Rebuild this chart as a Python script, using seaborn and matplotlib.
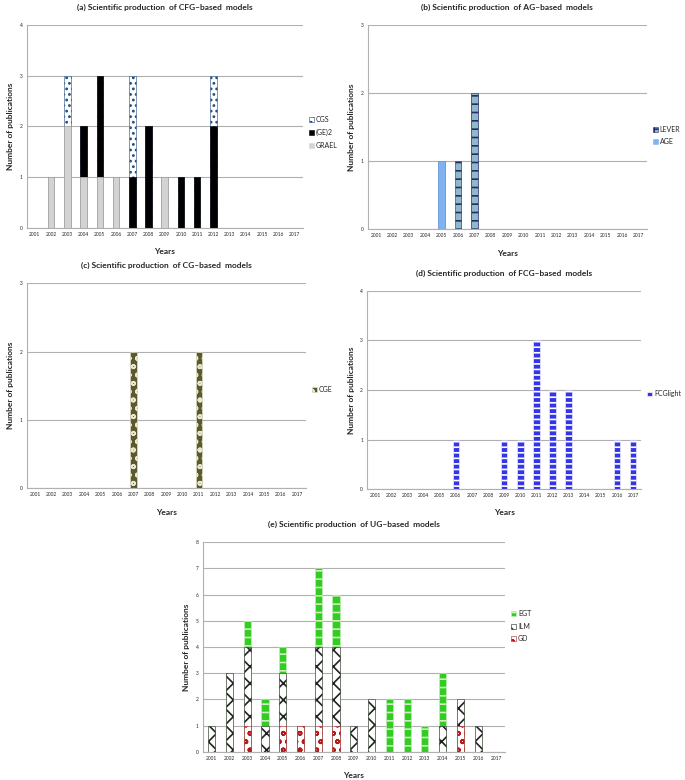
import matplotlib
matplotlib.use("Agg")
import matplotlib.pyplot as plt
import seaborn as sns
import numpy as np
from matplotlib.patches import Patch

years = [str(y) for y in range(2001, 2018)]

# (a) CFG-based models
cfg_grael = [0, 1, 2, 1, 1, 1, 0, 0, 1, 0, 0, 0, 0, 0, 0, 0, 0]
cfg_ge2 = [0, 0, 0, 1, 2, 0, 1, 2, 0, 1, 1, 2, 0, 0, 0, 0, 0]
cfg_cgs = [0, 0, 1, 0, 0, 0, 2, 0, 0, 0, 0, 1, 0, 0, 0, 0, 0]

# (b) AG-based models
ag_age = [0, 0, 0, 0, 1, 0, 0, 0, 0, 0, 0, 0, 0, 0, 0, 0, 0]
ag_lever = [0, 0, 0, 0, 0, 1, 2, 0, 0, 0, 0, 0, 0, 0, 0, 0, 0]

# (c) CG-based models
cg_cge = [0, 0, 0, 0, 0, 0, 2, 0, 0, 0, 2, 0, 0, 0, 0, 0, 0]

# (d) FCG-based models
fcg_light = [0, 0, 0, 0, 0, 1, 0, 0, 1, 1, 3, 2, 2, 0, 0, 1, 1]

# (e) UG-based models
ug_gd = [0, 0, 1, 0, 1, 1, 1, 1, 0, 0, 0, 0, 0, 0, 1, 0, 0]
ug_ilm = [1, 3, 3, 1, 2, 0, 3, 3, 1, 2, 0, 0, 0, 1, 1, 1, 0]
ug_egt = [0, 0, 1, 1, 1, 0, 3, 2, 0, 0, 2, 2, 1, 2, 0, 0, 0]

sns.set_style("white")
plt.rcParams["font.family"] = ["Lato", "DejaVu Sans"]
plt.rcParams["hatch.linewidth"] = 1.2

fig = plt.figure(figsize=(6.85, 7.8), dpi=100)


def stacked(ax, series, title, ymax, leg_y=0.48):
    # series: list of (label, values, face, hatch, hatchcolor), bottom first
    totals = np.cumsum([s[1] for s in series], axis=0)
    for i in range(len(series) - 1, -1, -1):
        label, vals, face, hatch, hcol = series[i]
        sns.barplot(x=years, y=totals[i], ax=ax, color=face, saturation=1,
                    width=0.4, edgecolor=hcol, linewidth=0.4, hatch=hatch)
    ax.set_ylim(0, ymax)
    ax.set_yticks(range(0, ymax + 1))
    ax.yaxis.grid(True, color="#b0b0b0", linewidth=0.8)
    ax.set_axisbelow(True)
    for side in ["top", "right"]:
        ax.spines[side].set_visible(False)
    ax.spines["left"].set_color("#b0b0b0")
    ax.spines["bottom"].set_color("#b0b0b0")
    ax.tick_params(axis="both", labelsize=3.5, length=0, pad=3)
    ax.set_title(title, fontsize=6, fontweight="bold", pad=11)
    ax.set_ylabel("Number of publications", fontsize=6, fontweight="bold")
    ax.set_xlabel("Years", fontsize=6, fontweight="bold", labelpad=8)
    handles = [Patch(facecolor=s[2], edgecolor=s[4], hatch=s[3], linewidth=0.4, label=s[0])
               for s in reversed(series)]
    ax.legend(handles=handles, loc="center left", bbox_to_anchor=(1.0, leg_y),
              frameon=False, fontsize=5, handlelength=0.7, handleheight=0.7,
              handletextpad=0.3, labelspacing=0.8)


ax_a = fig.add_axes([0.039, 0.708, 0.403, 0.260])
stacked(ax_a, [("GRAEL", cfg_grael, "#d3d3d3", None, "#d3d3d3"),
               ("(GE)2", cfg_ge2, "#000000", None, "#000000"),
               ("CGS", cfg_cgs, "#ffffff", "...", "#1f4a80")],
        "(a) Scientific production  of CFG\u2013based  models", 4, 0.47)

ax_b = fig.add_axes([0.537, 0.706, 0.407, 0.262])
stacked(ax_b, [("AGE", ag_age, "#7fb2f0", None, "#7fb2f0"),
               ("LEVER", ag_lever, "#8fb8c8", "++", "#2a2a6a")],
        "(b) Scientific production  of AG\u2013based  models", 3, 0.46)

ax_c = fig.add_axes([0.039, 0.374, 0.407, 0.263])
stacked(ax_c, [("CGE", cg_cge, "#5b5a2e", "oo", "#e8e8d0")],
        "(c) Scientific production  of CG\u2013based  models", 3, 0.48)

ax_d = fig.add_axes([0.536, 0.373, 0.400, 0.254])
stacked(ax_d, [("FCGlight", fcg_light, "#3535e8", "---", "#ffffff")],
        "(d) Scientific production  of FCG\u2013based  models", 4, 0.48)

ax_e = fig.add_axes([0.296, 0.036, 0.441, 0.269])
stacked(ax_e, [("GD", ug_gd, "#ffffff", "oo", "#b01c1c"),
               ("ILM", ug_ilm, "#ffffff", "xx", "#222222"),
               ("EGT", ug_egt, "#33cc22", "--", "#ccf0c0")],
        "(e) Scientific production  of UG\u2013based  models", 8, 0.6)

fig.savefig("out.png", dpi=100)
